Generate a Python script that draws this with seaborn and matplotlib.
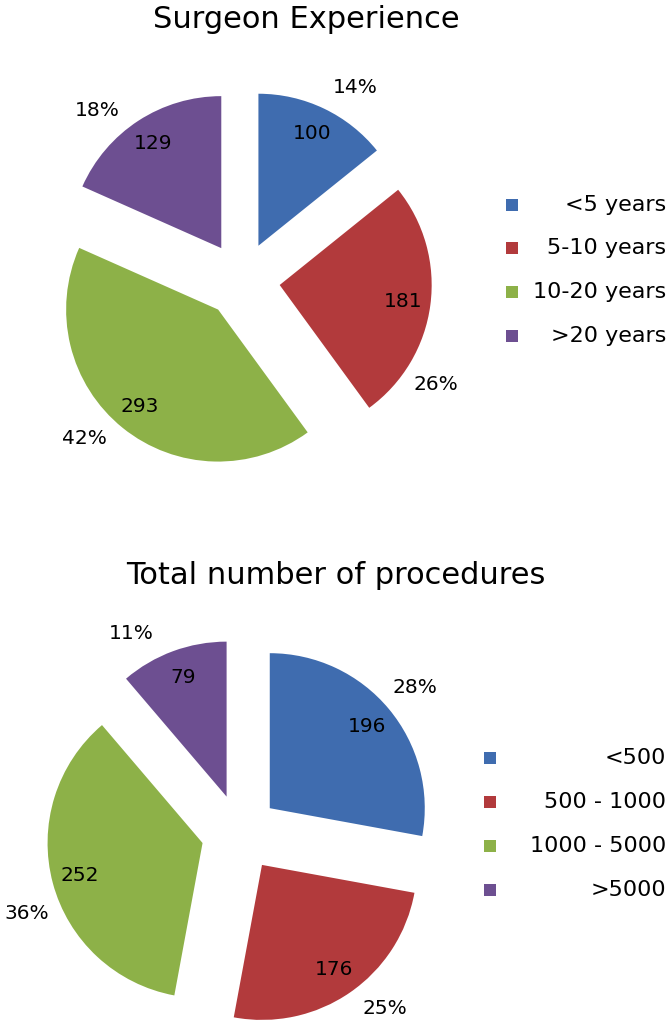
import numpy as np
import matplotlib
matplotlib.use('Agg')
import matplotlib.pyplot as plt
import seaborn as sns
from matplotlib.patches import Rectangle

sns.set_theme(style='white')
plt.rcParams['font.family'] = ['DejaVu Sans']
plt.rcParams['text.color'] = 'black'

# data
exp_labels = ['<5 years', '5-10 years', '10-20 years', '>20 years']
exp_counts = [100, 181, 293, 129]
proc_labels = ['<500', '500 - 1000', '1000 - 5000', '>5000']
proc_counts = [196, 176, 252, 79]

colors = ['#3F6CAF', '#B23A3C', '#8DB148', '#6D4F91']

W, H = 670, 1022
fig = plt.figure(figsize=(W / 100, H / 100), dpi=100)


def pie_axes(cx, cy, r, lim=1.55):
    # cx, cy in pixels from the top-left, r = pie radius in pixels
    half = lim * r
    return fig.add_axes([(cx - half) / W, (H - cy - half) / H, 2 * half / W, 2 * half / H])


def draw_pie(ax, counts, nudges, lim=1.55):
    total = sum(counts)
    pct = [f'{round(c / total * 100)}%' for c in counts]
    wedges, texts, autotexts = ax.pie(
        counts, colors=colors, startangle=90, counterclock=False,
        explode=[0.25] * len(counts), labels=pct, labeldistance=1.22,
        autopct=lambda p: f'{p * total / 100:.0f}', pctdistance=0.82,
        wedgeprops=dict(linewidth=0),
        textprops=dict(fontsize=14.5, color='black'))
    # Excel-like placement of the outside labels
    for t, w, n in zip(texts, wedges, nudges):
        ang = np.deg2rad((w.theta1 + w.theta2) / 2 + n)
        x0, y0 = w.center
        t.set_position((x0 + 1.22 * np.cos(ang), y0 + 1.22 * np.sin(ang)))
        t.set_ha('center')
        t.set_va('center')
    for t in autotexts:
        t.set_va('center')
    ax.set_xlim(-lim, lim)
    ax.set_ylim(-lim, lim)
    ax.set_aspect('equal')
    ax.axis('off')


def side_legend(labels, xsq, y0, step, xright=666, size=12):
    # Excel style legend: square on the left, label right aligned
    for i, (lab, c) in enumerate(zip(labels, colors)):
        y = y0 + i * step
        fig.patches.append(Rectangle(((xsq - size / 2) / W, 1 - (y + size / 2) / H),
                                     size / W, size / H, transform=fig.transFigure,
                                     facecolor=c, edgecolor='none'))
        fig.text(xright / W, 1 - y / H, lab, ha='right', va='center', fontsize=16)


ax1 = pie_axes(242, 280, 152)
draw_pie(ax1, exp_counts, [-6, -25, -7, 9])
ax2 = pie_axes(240, 833, 155)
draw_pie(ax2, proc_counts, [0, 6, 7, 10])

fig.text(306 / W, 1 - 19 / H, 'Surgeon Experience', ha='center', va='center', fontsize=22)
fig.text(336 / W, 1 - 576 / H, 'Total number of procedures', ha='center', va='center', fontsize=22)

side_legend(exp_labels, 512, 205, 43.5)
side_legend(proc_labels, 490, 758, 44)

fig.savefig('out.png', dpi=100)
